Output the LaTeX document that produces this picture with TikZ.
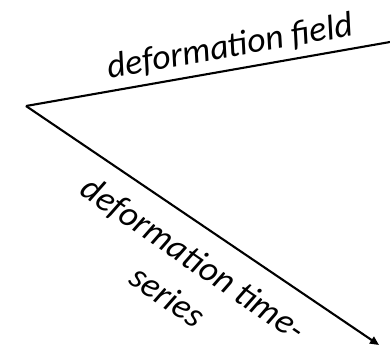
\documentclass[tikz,border=0pt]{standalone}
\usepackage{fontspec}
\setmainfont{Carlito}
\usetikzlibrary{arrows.meta}
\begin{document}
\begin{tikzpicture}[x=1pt,y=-1pt,
  edge/.style={line width=2.1pt,black},
  lbl/.style={font=\fontsize{35.5}{42}\selectfont\itshape,inner sep=0pt,anchor=base}]
\useasboundingbox (0,0) rectangle (390,346);
\coordinate (apex) at (26,106);
\coordinate (topend) at (390,42);
\coordinate (botend) at (379,345);
\draw[edge] (topend) -- (apex);
\draw[edge,-{Triangle[length=9pt,width=8pt]}] (apex) -- (botend);
\node[lbl,rotate=10] (field) at (232,57) {deformation field};
\node[lbl,rotate=-34.5] (ts1) at (187,268) {deformation time-};
\node[lbl,rotate=-34.5] (ts2) at (161,306) {series};
\end{tikzpicture}
\end{document}
